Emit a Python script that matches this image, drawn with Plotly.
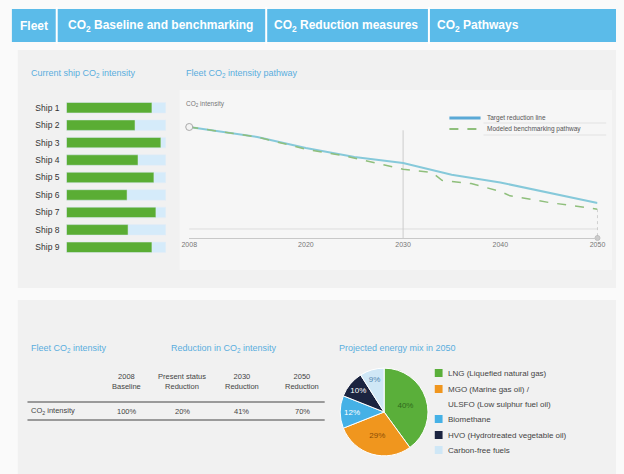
import plotly.graph_objects as go

W, H = 624, 474
def px(x): return x / W
def py(y): return 1 - y / H

# ---------------- data ----------------
tabs = ["Fleet", "CO<sub>2</sub> Baseline and benchmarking", "CO<sub>2</sub> Reduction measures", "CO<sub>2</sub> Pathways"]
ships = ["Ship 1", "Ship 2", "Ship 3", "Ship 4", "Ship 5", "Ship 6", "Ship 7", "Ship 8", "Ship 9"]
ship_intensity = [0.86, 0.69, 0.95, 0.72, 0.88, 0.61, 0.90, 0.62, 0.86]
ship_reference = [1, 1, 1, 1, 1, 1, 1, 1, 1]

target_years = [2008, 2015, 2020, 2025, 2030, 2035, 2040, 2045, 2050]
target_values = [100, 91, 81, 73, 67.5, 57, 50, 40.5, 31.5]
model_years = [2008, 2015, 2020, 2024, 2026, 2030, 2033, 2034, 2037, 2040, 2041, 2045, 2050]
model_values = [100, 91, 80, 74, 70, 62, 59, 52, 49, 42, 38, 32, 26]
year_ticks = [2008, 2020, 2030, 2040, 2050]
line_names = ["Target reduction line", "Modeled benchmarking pathway"]

table_headers = ["2008<br>Baseline", "Present status<br>Reduction", "2030<br>Reduction", "2050<br>Reduction"]
table_row_label = "CO<sub>2</sub> intensity"
table_values = ["100%", "20%", "41%", "70%"]

mix_labels = ["LNG (Liquefied natural gas)", "MGO (Marine gas oil) /<br>ULSFO (Low sulphur fuel oil)",
              "Biomethane", "HVO (Hydrotreated vegetable oil)", "Carbon-free fuels"]
mix_values = [40, 29, 12, 10, 9]
mix_colors = ["#5aaf3a", "#f0961e", "#45b1e6", "#1b2440", "#cfe7f6"]
mix_text_colors = ["#2f6a1c", "#8a4d05", "#ffffff", "#ffffff", "#4f86b0"]

BLUE = "#5bbbe9"
TITLE = "#5aaede"
SOLID = "#86c9da"
DASHC = "#8fbf7c"

fig = go.Figure()

# ---------- bar chart ----------
fig.add_trace(go.Bar(y=ships, x=ship_reference, orientation="h", marker_color="#d5ebfa",
                     width=0.6, showlegend=False, xaxis="x", yaxis="y", hoverinfo="skip"))
fig.add_trace(go.Bar(y=ships, x=ship_intensity, orientation="h", marker_color="#5aad34",
                     width=0.6, showlegend=False, xaxis="x", yaxis="y"))

# ---------- line chart ----------
fig.add_trace(go.Scatter(x=target_years, y=target_values, mode="lines", name=line_names[0],
                         line=dict(color=SOLID, width=2), xaxis="x2", yaxis="y2", showlegend=False))
fig.add_trace(go.Scatter(x=model_years, y=model_values, mode="lines", name=line_names[1],
                         line=dict(color=DASHC, width=1.5, dash="dash"), xaxis="x2", yaxis="y2", showlegend=False))
fig.add_trace(go.Scatter(x=[model_years[-1], model_years[-1]], y=[model_values[-1], 0], mode="lines+markers",
                         line=dict(color="#aaaaaa", width=1, dash="dot"), marker=dict(size=[0, 5], color="#bbbbbb"),
                         showlegend=False, xaxis="x2", yaxis="y2", cliponaxis=False))
fig.add_trace(go.Scatter(x=[target_years[0]], y=[target_values[0]], mode="markers",
                         marker=dict(size=7, color="#f4f4f4", line=dict(color="#aaaaaa", width=1)),
                         showlegend=False, xaxis="x2", yaxis="y2", cliponaxis=False))

# ---------- pie ----------
fig.add_trace(go.Pie(labels=mix_labels, values=mix_values, sort=False, direction="clockwise", rotation=0,
                     marker=dict(colors=mix_colors, line=dict(color="#ffffff", width=1)),
                     texttemplate="%{value}%", textposition="inside",
                     insidetextfont=dict(color=mix_text_colors, size=8),
                     domain=dict(x=[px(341), px(431)], y=[py(457), py(367)]),
                     showlegend=False))

shapes = []
ann = []

# panels
shapes.append(dict(type="rect", xref="paper", yref="paper", x0=px(10), x1=px(624), y0=py(288), y1=py(50),
                   fillcolor="#f1f1f1", line_width=0, layer="below"))
shapes.append(dict(type="rect", xref="paper", yref="paper", x0=px(10), x1=px(624), y0=py(474), y1=py(300),
                   fillcolor="#f1f1f1", line_width=0, layer="below"))
shapes.append(dict(type="rect", xref="paper", yref="paper", x0=px(176), x1=px(620), y0=py(270), y1=py(90),
                   fillcolor="#f6f6f6", line_width=0, layer="below"))

# header
shapes.append(dict(type="rect", xref="paper", yref="paper", x0=px(4), x1=px(624), y0=py(42), y1=py(9),
                   fillcolor=BLUE, line_width=0))
for sx in [50, 265, 432]:
    shapes.append(dict(type="line", xref="paper", yref="paper", x0=px(sx), x1=px(sx), y0=py(44), y1=py(7),
                       line=dict(color="#ffffff", width=2)))
tab_x = [10, 60, 271, 438]
for t, tx in zip(tabs, tab_x):
    ann.append(dict(text="<b>" + t + "</b>", x=px(tx), y=py(26), xref="paper", yref="paper", xanchor="left",
                    yanchor="middle", showarrow=False, font=dict(color="#ffffff", size=12)))

# section titles
titles = [("Current ship CO<sub>2</sub> intensity", 22, 73), ("Fleet CO<sub>2</sub> intensity pathway", 181, 73),
          ("Fleet CO<sub>2</sub> intensity", 22, 348), ("Reduction in CO<sub>2</sub> intensity", 165, 348),
          ("Projected energy mix in 2050", 338, 348)]
for t, tx, ty in titles:
    ann.append(dict(text=t, x=px(tx), y=py(ty), xref="paper", yref="paper", xanchor="left", yanchor="middle",
                    showarrow=False, font=dict(color=TITLE, size=9)))

# line chart extras
ann.append(dict(text="CO<sub>2</sub> intensity", x=px(181), y=py(104), xref="paper", yref="paper",
                xanchor="left", yanchor="middle", showarrow=False, font=dict(color="#777777", size=6.5)))
shapes.append(dict(type="line", xref="x2", yref="y2", x0=2030, x1=2030, y0=0, y1=97,
                   line=dict(color="#cccccc", width=1), layer="below"))
shapes.append(dict(type="line", xref="paper", yref="paper", x0=px(186), x1=px(605), y0=py(229), y1=py(229),
                   line=dict(color="#dddddd", width=1), layer="below"))

# line legend (manual)
leg_y = [118, 129]
shapes.append(dict(type="line", xref="paper", yref="paper", x0=px(453), x1=px(485), y0=py(leg_y[0]), y1=py(leg_y[0]),
                   line=dict(color="#5aa9d6", width=3)))
shapes.append(dict(type="line", xref="paper", yref="paper", x0=px(453), x1=px(485), y0=py(leg_y[1]), y1=py(leg_y[1]),
                   line=dict(color=DASHC, width=2, dash="dash")))
for nm, ly in zip(line_names, leg_y):
    ann.append(dict(text=nm, x=px(490), y=py(ly), xref="paper", yref="paper", xanchor="left", yanchor="middle",
                    showarrow=False, font=dict(color="#555555", size=6.5)))
for ly in [123, 135]:
    shapes.append(dict(type="line", xref="paper", yref="paper", x0=px(488), x1=px(614), y0=py(ly), y1=py(ly),
                       line=dict(color="#e2e2e2", width=1), layer="below"))

# pie legend (manual)
leg_rows = [373, 389, 419, 435, 450]
for lab, col, ly in zip(mix_labels, mix_colors, leg_rows):
    shapes.append(dict(type="rect", xref="paper", yref="paper", x0=px(438), x1=px(446), y0=py(ly + 4), y1=py(ly - 4),
                       fillcolor=col, line_width=0))
    parts = lab.split("<br>")
    for i, p in enumerate(parts):
        ann.append(dict(text=p, x=px(450), y=py(ly + i * 15.3), xref="paper", yref="paper", xanchor="left",
                        yanchor="middle", showarrow=False, font=dict(color="#444444", size=8)))

# table
col_x = [122, 179, 240, 302]
for h, cx in zip(table_headers, col_x):
    ann.append(dict(text=h, x=px(cx), y=py(381), xref="paper", yref="paper", xanchor="center", yanchor="middle",
                    showarrow=False, font=dict(color="#444444", size=7.5)))
for v, cx in zip(table_values, col_x):
    ann.append(dict(text=v, x=px(cx), y=py(411), xref="paper", yref="paper", xanchor="center", yanchor="middle",
                    showarrow=False, font=dict(color="#444444", size=7.5)))
ann.append(dict(text=table_row_label, x=px(22), y=py(411), xref="paper", yref="paper", xanchor="left",
                yanchor="middle", showarrow=False, font=dict(color="#444444", size=7.5)))
for ly in [402, 420]:
    shapes.append(dict(type="line", xref="paper", yref="paper", x0=px(20), x1=px(325), y0=py(ly), y1=py(ly),
                       line=dict(color="#444444", width=1.2)))

fig.update_layout(
    width=W, height=H, autosize=False, margin=dict(l=0, r=0, t=0, b=0, pad=0),
    paper_bgcolor="#fafafa", plot_bgcolor="rgba(0,0,0,0)",
    font=dict(family="Liberation Sans, Arial, sans-serif", color="#444444"),
    barmode="overlay", shapes=shapes, annotations=ann, showlegend=False,
    xaxis=dict(domain=[px(60), px(162)], range=[0, 1], visible=False, fixedrange=True),
    yaxis=dict(domain=[py(256), py(99)], categoryorder="array", categoryarray=ships[::-1],
               showgrid=False, zeroline=False, showline=False, ticks="", ticklabelstandoff=6,
               tickfont=dict(size=8.5, color="#333333")),
    xaxis2=dict(domain=[px(186), px(605)], range=[2008, 2050], tickvals=year_ticks, anchor="y2",
                showgrid=False, zeroline=False, showline=True, linecolor="#c8c8c8", ticks="",
                tickfont=dict(size=7, color="#777777")),
    yaxis2=dict(domain=[py(238), py(110)], range=[0, 115.3], anchor="x2", visible=False),
)

fig.write_html("out.html")
